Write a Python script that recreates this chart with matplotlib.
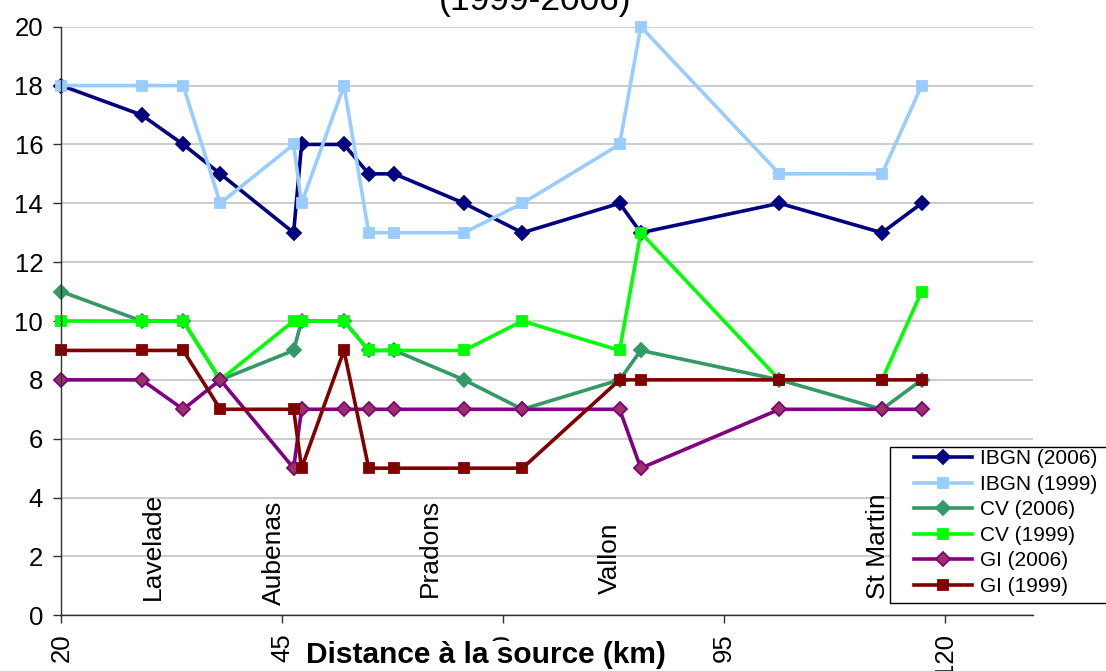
import matplotlib
matplotlib.use("Agg")
import matplotlib.pyplot as plt
from matplotlib.patches import Rectangle

plt.rcParams['font.family'] = ['Liberation Sans', 'DejaVu Sans']

# Distance from the source (km) of each sampling station
distance_km = [20.0, 29.1, 33.8, 38.0, 46.3, 47.2, 52.0, 54.8, 57.7,
               65.6, 72.2, 83.2, 85.6, 101.3, 112.9, 117.4]

ibgn_2006 = [18, 17, 16, 15, 13, 16, 16, 15, 15, 14, 13, 14, 13, 14, 13, 14]
ibgn_1999 = [18, 18, 18, 14, 16, 14, 18, 13, 13, 13, 14, 16, 20, 15, 15, 18]
cv_2006 = [11, 10, 10, 8, 9, 10, 10, 9, 9, 8, 7, 8, 9, 8, 7, 8]
cv_1999 = [10, 10, 10, 8, 10, 10, 10, 9, 9, 9, 10, 9, 13, 8, 8, 11]
gi_2006 = [8, 8, 7, 8, 5, 7, 7, 7, 7, 7, 7, 7, 5, 7, 7, 7]
gi_1999 = [9, 9, 9, 7, 7, 5, 9, 5, 5, 5, 5, 8, 8, 8, 8, 8]

series_labels = ['IBGN (2006)', 'IBGN (1999)', 'CV (2006)', 'CV (1999)',
                 'GI (2006)', 'GI (1999)']

town_names = ['Lavelade', 'Aubenas', 'Pradons', 'Vallon', 'St Martin']
town_km = [30.4, 44.1, 61.7, 82.1, 112.4]
town_y = [0.52, 0.35, 0.63, 0.72, 0.55]

x_ticks = [20, 45, 70, 95, 120]
y_ticks = list(range(0, 21, 2))

fig = plt.figure(figsize=(11.06, 6.71), dpi=100)
ax = fig.add_axes([0.05542, 0.0830, 0.8786, 0.8772])

styles = [
    dict(color='#000080', marker='D', ms=6.8, mfc='#000080', mec='#000080'),
    dict(color='#99CCFF', marker='s', ms=7.4, mfc='#99CCFF', mec='#99CCFF'),
    dict(color='#339966', marker='D', ms=6.8, mfc='#339966', mec='#339966'),
    dict(color='#00FF00', marker='s', ms=7.4, mfc='#00FF00', mec='#00FF00'),
    dict(color='#800080', marker='D', ms=6.8, mfc='#993366', mec='#800080'),
    dict(color='#800000', marker='s', ms=7.4, mfc='#800000', mec='#800000'),
]
all_series = [ibgn_2006, ibgn_1999, cv_2006, cv_1999, gi_2006, gi_1999]

handles = []
for vals, lab, st in zip(all_series, series_labels, styles):
    h, = ax.plot(distance_km, vals, lw=2.6, label=lab, clip_on=False,
                 mew=1.3, **st)
    handles.append(h)

ax.set_xlim(20, 130)
ax.set_ylim(0, 20)
ax.set_xticks(x_ticks)
ax.set_yticks(y_ticks)
ax.grid(axis='y', color='#C8C8C8', lw=1.3)
ax.set_axisbelow(True)
for s in ['top', 'right']:
    ax.spines[s].set_visible(False)
for s in ['left', 'bottom']:
    ax.spines[s].set_color('#303030')
    ax.spines[s].set_linewidth(1.0)
ax.tick_params(axis='both', direction='out', length=5.5, width=1.0,
               color='#303030', labelsize=18.5, pad=7.5)
ax.tick_params(axis='x', labelrotation=90)

for name, xk, yk in zip(town_names, town_km, town_y):
    ax.text(xk, yk, name, rotation=90, ha='center', va='bottom', fontsize=19)

ax.set_xlabel('Distance à la source (km)', fontsize=21.5, fontweight='bold',
              va='baseline',
              bbox=dict(facecolor='white', edgecolor='none', pad=0))
ax.xaxis.set_label_coords(0.437, -0.081)

fig.text(535 / 1106, (671 - 10) / 671, '(1999-2006)', ha='center',
         va='baseline', fontsize=25.5)

rect = Rectangle((890 / 1106, (671 - 603) / 671), 0.25, (603 - 446.5) / 671,
                 transform=fig.transFigure, facecolor='white',
                 edgecolor='black', lw=1.0, zorder=4)
fig.add_artist(rect)
leg = fig.legend(handles=handles, loc='upper left',
                 bbox_to_anchor=(914 / 1106, (671 - 449.5) / 671),
                 bbox_transform=fig.transFigure, frameon=False,
                 fontsize=15, borderpad=0, borderaxespad=0,
                 handlelength=2.8, handletextpad=0.35, labelspacing=0.31)
leg.set_zorder(5)

fig.savefig('out.png', dpi=100)
